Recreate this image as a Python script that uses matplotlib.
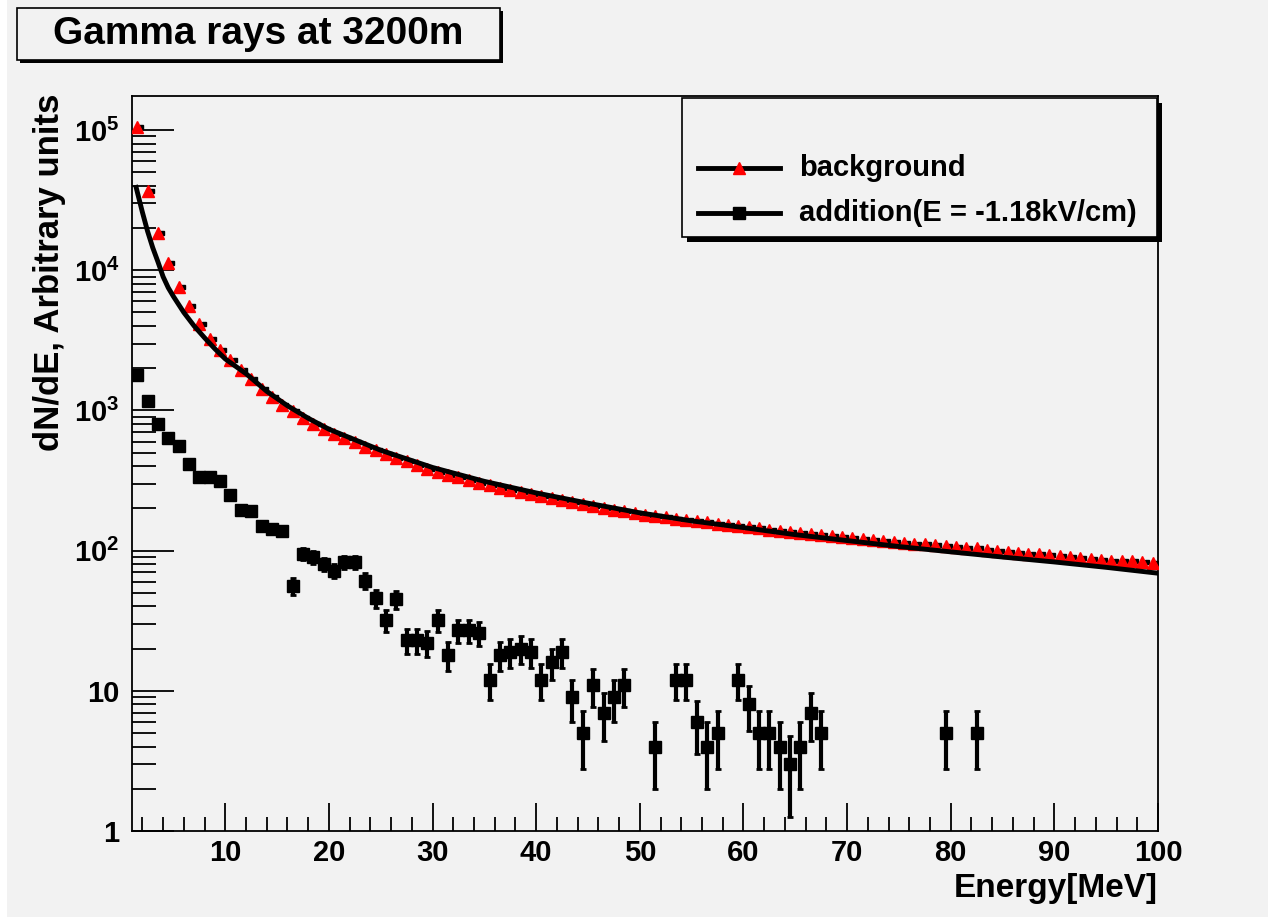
import numpy as np
import matplotlib
matplotlib.use('Agg')
import matplotlib.pyplot as plt
from matplotlib.patches import Rectangle
from matplotlib.lines import Line2D
from matplotlib.ticker import MultipleLocator, FixedLocator, LogLocator, NullFormatter

plt.rcParams['font.family'] = ['Liberation Sans', 'DejaVu Sans']
plt.rcParams['font.weight'] = 'bold'
plt.rcParams['mathtext.fontset'] = 'custom'
plt.rcParams['mathtext.rm'] = 'Liberation Sans:bold'
plt.rcParams['mathtext.bf'] = 'Liberation Sans:bold'
plt.rcParams['mathtext.it'] = 'Liberation Sans:bold'

# 1 MeV bins, centres 1.5 ... 99.5
bin_centres = np.arange(1.5, 100.0, 1.0)

# background histogram (red triangles)
bg_vals = [105000, 36600, 18300, 11300, 7600, 5540, 4160, 3250, 2710, 2300,
           1950, 1680, 1430, 1240, 1086, 984, 887, 803, 740, 682,
           638, 594, 553, 518, 485, 459, 434, 405, 383, 362,
           348, 336, 320, 303, 293, 280, 271, 262, 253, 245,
           237, 229, 222, 215, 209, 202, 196, 191, 186, 181,
           177, 173, 169, 165, 162, 159, 156, 153, 150, 147,
           144, 141, 139, 136, 134, 131, 129, 127, 125, 123,
           121, 119, 117, 115, 113, 112, 111, 110, 108, 107,
           105, 104, 101, 99, 98, 96, 95, 94, 93, 92,
           90, 89, 87, 86, 85, 84, 84, 83, 82]

# smooth black curve
line_e = [1.4, 2.0, 2.5, 3.0, 3.5, 4.0, 4.5, 5.0, 6.0, 7.0, 8.0, 9.0, 10.0,
          12, 14, 16, 18, 20, 25, 30, 35, 40, 45, 50, 55, 60, 65, 70, 75,
          80, 85, 90, 95, 100]
line_v = [39000, 26000, 19000, 14500, 11500, 9000, 7500, 6500, 5000, 4000,
          3300, 2750, 2330, 1830, 1370, 1080, 880, 735, 520, 392, 312, 258,
          218, 186, 163, 146, 130, 118, 107, 98, 90, 83, 76, 69]

# addition histogram (black squares, sqrt(N) errors), empty bins left out
add_e = [1.5, 2.5, 3.5, 4.5, 5.5, 6.5, 7.5, 8.5, 9.5, 10.5, 11.5, 12.5, 13.5,
         14.5, 15.5, 16.5, 17.5, 18.5, 19.5, 20.5, 21.5, 22.5, 23.5, 24.5,
         25.5, 26.5, 27.5, 28.5, 29.5, 30.5, 31.5, 32.5, 33.5, 34.5, 35.5,
         36.5, 37.5, 38.5, 39.5, 40.5, 41.5, 42.5, 43.5, 44.5, 45.5, 46.5,
         47.5, 48.5, 51.5, 53.5, 54.5, 55.5, 56.5, 57.5, 59.5, 60.5, 61.5,
         62.5, 63.5, 64.5, 65.5, 66.5, 67.5, 79.5, 82.5]
add_vals = [1800, 1170, 800, 640, 556, 416, 334, 334, 316, 251, 195, 191, 151,
            143, 139, 56, 95, 90, 80, 72, 83, 83, 61, 46,
            32, 45, 23, 23, 22, 32, 18, 27, 27, 26, 12,
            18, 19, 20, 19, 12, 16, 19, 9, 5, 11, 7,
            9, 11, 4, 12, 12, 6, 4, 5, 12, 8, 5,
            5, 4, 3, 4, 7, 5, 5, 5]

W, H = 1268, 917
bgc = '#f2f2f2'


def fx(px):
    return px / W


def fy(py):
    return 1 - py / H


fig = plt.figure(figsize=(W / 100, H / 100), dpi=100, facecolor=bgc)
ax = fig.add_axes([fx(132), fy(831), fx(1158) - fx(132), fy(96) - fy(831)])
ax.set_facecolor(bgc)

ax.plot(bin_centres + 0.4, bg_vals, 's', color='black', ms=3.5, zorder=3)
ax.plot(bin_centres, bg_vals, '^', color='red', mec='red', ms=8, zorder=4)
ax.plot(line_e, line_v, '-', color='black', lw=3.5, zorder=5)
ax.errorbar(add_e, add_vals, yerr=np.sqrt(add_vals), fmt='s', color='black',
            ms=9, elinewidth=3, capsize=2.5, capthick=2, zorder=6)

ax.set_yscale('log')
ax.set_xlim(1, 100)
ax.set_ylim(1, 1.75e5)

ax.xaxis.set_major_locator(FixedLocator([10, 20, 30, 40, 50, 60, 70, 80, 90, 100]))
ax.xaxis.set_minor_locator(MultipleLocator(2))
ax.set_xticklabels(['10', '20', '30', '40', '50', '60', '70', '80', '90', '100'])
ax.yaxis.set_major_locator(FixedLocator([1, 10, 100, 1e3, 1e4, 1e5]))
ax.yaxis.set_minor_locator(LogLocator(base=10, subs=np.arange(2, 10)))
ax.yaxis.set_minor_formatter(NullFormatter())
ax.set_yticklabels(['1', '10', r'$10^{2}$', r'$10^{3}$', r'$10^{4}$', r'$10^{5}$'])

ax.tick_params(axis='both', which='both', direction='in', top=False, right=False,
               colors='black', labelsize=21, width=1.3)
ax.tick_params(axis='x', which='major', length=20, pad=6)
ax.tick_params(axis='x', which='minor', length=10)
ax.tick_params(axis='y', which='major', length=30, pad=9)
ax.tick_params(axis='y', which='minor', length=17)
for s in ax.spines.values():
    s.set_color('black')
    s.set_linewidth(1.3)

fig.text(fx(1158), fy(888), 'Energy[MeV]', ha='right', va='center', fontsize=24)
fig.text(fx(50), fy(94), 'dN/dE, Arbitrary units', rotation=90, ha='center',
         va='top', fontsize=25)

# title box with shadow
fig.add_artist(Rectangle((fx(20), fy(63)), fx(500) - fx(17), fy(8) - fy(60),
                         transform=fig.transFigure, fc='black', ec='none', zorder=10))
fig.add_artist(Rectangle((fx(17), fy(60)), fx(500) - fx(17), fy(8) - fy(60),
                         transform=fig.transFigure, fc=bgc, ec='black', lw=1.2, zorder=11))
fig.text(fx(258), fy(34), 'Gamma rays at 3200m', ha='center', va='center',
         fontsize=28, zorder=12)

# legend box with shadow
fig.add_artist(Rectangle((fx(687), fy(242)), fx(1157) - fx(682), fy(98) - fy(237),
                         transform=fig.transFigure, fc='black', ec='none', zorder=10))
fig.add_artist(Rectangle((fx(682), fy(237)), fx(1157) - fx(682), fy(98) - fy(237),
                         transform=fig.transFigure, fc=bgc, ec='black', lw=1.2, zorder=11))
fig.add_artist(Line2D([fx(698), fx(780)], [fy(168), fy(168)], color='black', lw=3.5,
                      transform=fig.transFigure, zorder=12))
fig.add_artist(Line2D([fx(739)], [fy(168)], marker='^', color='red', ms=8,
                      transform=fig.transFigure, zorder=13))
fig.add_artist(Line2D([fx(698), fx(780)], [fy(213), fy(213)], color='black', lw=3.5,
                      transform=fig.transFigure, zorder=12))
fig.add_artist(Line2D([fx(739)], [fy(213)], marker='s', color='black', ms=9,
                      transform=fig.transFigure, zorder=13))
fig.text(fx(799), fy(168), 'background', ha='left', va='center', fontsize=21, zorder=12)
fig.text(fx(799), fy(213), 'addition(E = -1.18kV/cm)', ha='left', va='center',
         fontsize=21, zorder=12)

# white margin on the left edge
fig.add_artist(Rectangle((0, 0), fx(7), 1, transform=fig.transFigure, fc='white',
                         ec='none', zorder=20))

fig.savefig('out.png', dpi=100, facecolor=fig.get_facecolor())
